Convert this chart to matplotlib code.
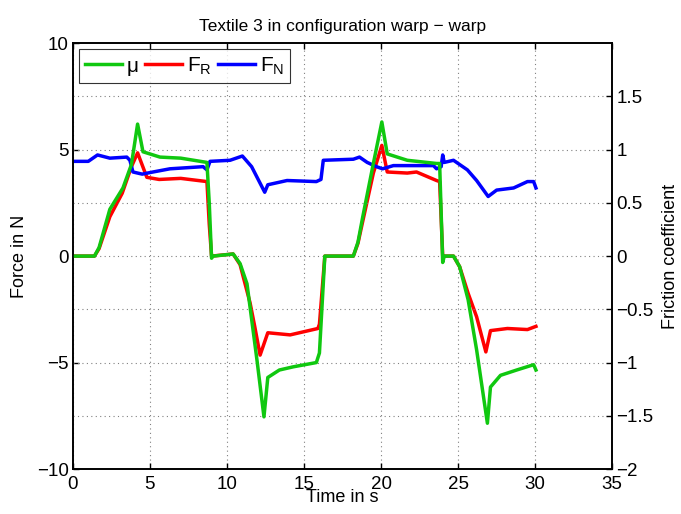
import numpy as np
import matplotlib
matplotlib.use("Agg")
import matplotlib.pyplot as plt

plt.rcParams['font.family'] = ['Liberation Sans', 'DejaVu Sans']

# friction coefficient (right axis)
mu_t = [0, 1.4, 1.7, 2.4, 3.25, 3.8, 4.2, 4.55, 5.65, 7.0, 8.7, 8.85, 9.0, 9.1,
        10.4, 10.85, 11.3, 11.95, 12.4, 12.65, 13.4, 14.3, 15.8, 16.0, 16.35,
        18.2, 18.5, 18.8, 19.5, 20.05, 20.4, 21.7, 23.6, 23.8, 24.0, 24.1, 24.7,
        25.1, 25.65, 26.2, 26.9, 27.1, 27.75, 28.8, 29.9, 30.05]
mu = [0, 0, 0.08, 0.44, 0.64, 0.86, 1.24, 0.98, 0.93, 0.92, 0.88, 0.5, -0.02, 0,
      0.02, -0.07, -0.26, -0.98, -1.51, -1.14, -1.07, -1.04, -1.0, -0.91, 0,
      0, 0.13, 0.36, 0.87, 1.26, 0.96, 0.9, 0.87, 0.87, -0.06, 0, 0,
      -0.1, -0.41, -0.88, -1.57, -1.23, -1.12, -1.07, -1.02, -1.07]

# friction force
fr_t = [0, 1.4, 1.7, 2.4, 3.2, 3.8, 4.2, 4.8, 5.6, 7.0, 8.7, 8.85, 9.0, 10.4,
        10.85, 11.5, 11.8, 12.15, 12.65, 14.1, 15.9, 16.0, 16.35, 18.2, 18.5,
        18.8, 19.5, 20.05, 20.4, 21.7, 22.3, 23.6, 23.8, 24.0, 24.7, 25.1,
        25.65, 26.2, 26.8, 27.1, 28.2, 29.5, 30.05]
fr = [0, 0, 0.35, 1.85, 2.95, 4.2, 4.85, 3.7, 3.6, 3.65, 3.5, 1.5, 0, 0.1,
      -0.4, -2.2, -3.3, -4.65, -3.6, -3.7, -3.4, -3.2, 0, 0, 0.6,
      1.6, 3.9, 5.2, 3.95, 3.9, 3.95, 3.55, 3.5, 0, 0, -0.5,
      -1.75, -2.85, -4.5, -3.5, -3.4, -3.45, -3.3]

# normal force
fn_t = [0, 1.0, 1.6, 2.4, 3.5, 3.7, 3.9, 4.5, 5.2, 6.3, 8.45, 8.7, 8.9, 10.2,
        11.0, 11.6, 12.45, 12.65, 13.9, 15.8, 16.1, 16.25, 18.2, 18.6, 19.1,
        19.7, 20.1, 20.8, 23.4, 23.6, 23.9, 24.0, 24.1, 24.7, 25.6, 26.2,
        26.95, 27.5, 28.6, 29.5, 29.9, 30.05]
fn = [4.45, 4.45, 4.75, 4.6, 4.65, 4.5, 3.95, 3.85, 3.95, 4.1, 4.2, 4.05, 4.45, 4.5,
      4.7, 4.2, 3.0, 3.35, 3.55, 3.5, 3.6, 4.5, 4.55, 4.65, 4.4,
      4.2, 4.1, 4.25, 4.25, 4.1, 4.2, 4.75, 4.4, 4.5, 4.05, 3.55,
      2.8, 3.1, 3.2, 3.5, 3.5, 3.2]

green = '#10c810'

fig = plt.figure(figsize=(6.81, 5.14), dpi=100)
ax = fig.add_axes([0.107, 0.0875, 0.792, 0.8285])
ax2 = ax.twinx()

l_fr, = ax.plot(fr_t, fr, color='#ff0000', lw=2.5)
l_fn, = ax.plot(fn_t, fn, color='#0000ff', lw=2.5)
l_mu, = ax2.plot(mu_t, mu, color=green, lw=2.5)
ax2.set_zorder(ax.get_zorder() + 1)

ax.set_xlim(0, 35)
ax.set_ylim(-10, 10)
ax.set_xticks(np.arange(0, 36, 5))
ax.set_yticks(np.arange(-10, 11, 5))
ax2.set_ylim(-2, 2)
ax2.set_yticks(np.arange(-2, 1.6, 0.5))
ax2.set_yticklabels(['\u22122', '\u22121.5', '\u22121', '\u22120.5', '0', '0.5', '1', '1.5'])
ax.set_yticklabels(['\u221210', '\u22125', '0', '5', '10'])

# grid: vertical at x ticks, horizontal at right-axis ticks
ax.grid(True, axis='x', linestyle=(0, (1, 3)), color='#808080', lw=0.8)
ax2.grid(True, axis='y', linestyle=(0, (1, 3)), color='#808080', lw=0.8)

for a in (ax, ax2):
    a.tick_params(direction='in', labelsize=13.5, length=4, width=1, pad=3)
    for s in a.spines.values():
        s.set_linewidth(1.2)
ax.tick_params(top=True)
ax.tick_params(axis='x', pad=5)

ax.set_xlabel('Time in s', fontsize=13, labelpad=-3)
ax.set_ylabel('Force in N', fontsize=13, labelpad=6)
ax2.set_ylabel('Friction coefficient', fontsize=13, labelpad=6)
ax.set_title('Textile 3 in configuration warp \u2212 warp', fontsize=12.5, pad=9)

leg = ax2.legend([l_mu, l_fr, l_fn], ['\u03bc', '$\\mathregular{F_R}$', '$\\mathregular{F_N}$'],
                 loc='upper left', ncol=3, fontsize=15, frameon=True, fancybox=False,
                 edgecolor='black', handlelength=1.75, handletextpad=0.25,
                 columnspacing=0.3, borderaxespad=0.3, borderpad=0.3)
leg.get_frame().set_linewidth(0.8)

fig.savefig('out.png', dpi=100)
